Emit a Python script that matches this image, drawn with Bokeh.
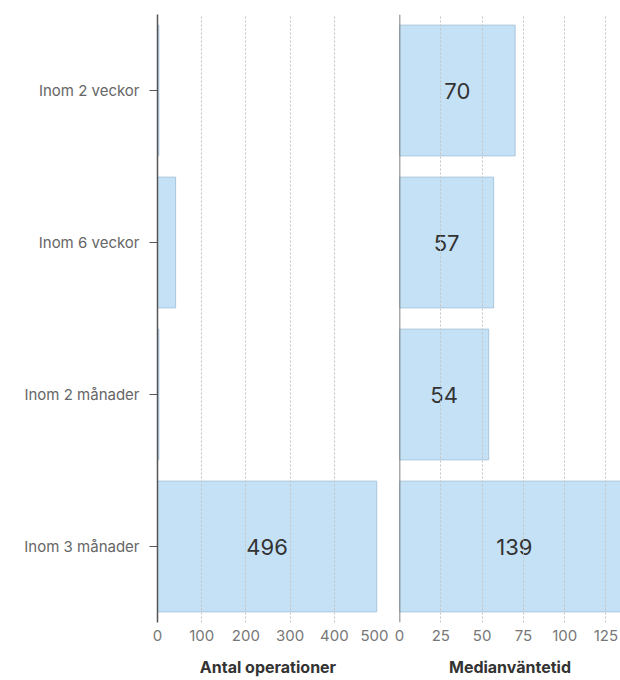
from bokeh.plotting import figure
from bokeh.layouts import row
from bokeh.models import ColumnDataSource, FactorRange, Range1d, FixedTicker, Span
from bokeh.core.properties import value
from bokeh.embed import file_html
from bokeh.resources import INLINE

categories = ["Inom 2 veckor", "Inom 6 veckor", "Inom 2 månader", "Inom 3 månader"]
antal_operationer = [3, 41, 3, 496]
median_vantetid = [70, 57, 54, 139]
left_ticks = [0, 100, 200, 300, 400, 500]
right_ticks = [0, 25, 50, 75, 100, 125]
left_title = "Antal operationer"
right_title = "Medianväntetid"

FONT = "Inter"
BAR_FILL = "#c5e1f6"
BAR_LINE = "#a8c6de"


def make_panel(vals, xmax, ticks, title, width, border_left, border_right, show_y):
    y_range = FactorRange(factors=categories[::-1], range_padding=0)
    p = figure(y_range=y_range, x_range=Range1d(0, xmax), width=width, height=680,
               output_backend="svg", toolbar_location=None,
               min_border_left=border_left, min_border_right=border_right,
               min_border_top=14, min_border_bottom=58)
    p.outline_line_color = None
    p.background_fill_color = "white"
    p.border_fill_color = "white"
    src = ColumnDataSource(dict(y=categories, v=vals))
    p.hbar(y="y", right="v", left=0, height=0.86, source=src,
           fill_color=BAR_FILL, line_color=BAR_LINE, line_width=1)
    lab_y = [c for c, v in zip(categories, vals) if v > xmax * 0.15]
    lab_v = [v for v in vals if v > xmax * 0.15]
    lsrc = ColumnDataSource(dict(y=lab_y, x=[v / 2 for v in lab_v], t=[str(v) for v in lab_v]))
    p.text(x="x", y="y", text="t", source=lsrc, text_align="center", text_baseline="middle",
           text_font=value(FONT), text_font_size="22px", text_color="#333333")

    p.ygrid.visible = False
    p.xgrid.grid_line_color = "#c4c4c4"
    p.xgrid.grid_line_dash = "2 2"
    p.xgrid.grid_line_width = 1
    p.xgrid.level = "overlay"

    xa = p.xaxis[0]
    xa.ticker = FixedTicker(ticks=ticks)
    xa.axis_line_color = None
    xa.major_tick_line_color = None
    xa.minor_tick_line_color = None
    xa.major_tick_out = 0
    xa.major_tick_in = 0
    xa.minor_tick_out = 0
    xa.major_label_text_font = FONT
    xa.major_label_text_font_size = "15px"
    xa.major_label_text_color = "#777777"
    xa.major_label_standoff = 7
    xa.axis_label = title
    xa.axis_label_text_font = FONT
    xa.axis_label_text_font_size = "16px"
    xa.axis_label_text_font_style = "bold"
    xa.axis_label_text_color = "#333333"
    xa.axis_label_standoff = 13

    ya = p.yaxis[0]
    if show_y:
        ya.axis_line_color = "#555555"
        ya.axis_line_width = 1.5
        ya.major_tick_line_color = "#555555"
        ya.major_tick_out = 8
        ya.major_tick_in = 0
        ya.minor_tick_line_color = None
        ya.major_label_text_font = FONT
        ya.major_label_text_font_size = "15px"
        ya.major_label_text_color = "#666666"
        ya.major_label_standoff = 10
    else:
        ya.visible = False
        p.add_layout(Span(location=0, dimension="height", line_color="#555555", line_width=1.5))
    return p


left = make_panel(antal_operationer, 500, left_ticks, left_title, 388, 157, 10, True)
right = make_panel(median_vantetid, 133.8, right_ticks, right_title, 232, 11, 0, False)

layout = row(left, right)
open("out.html", "w").write(file_html(layout, INLINE))
